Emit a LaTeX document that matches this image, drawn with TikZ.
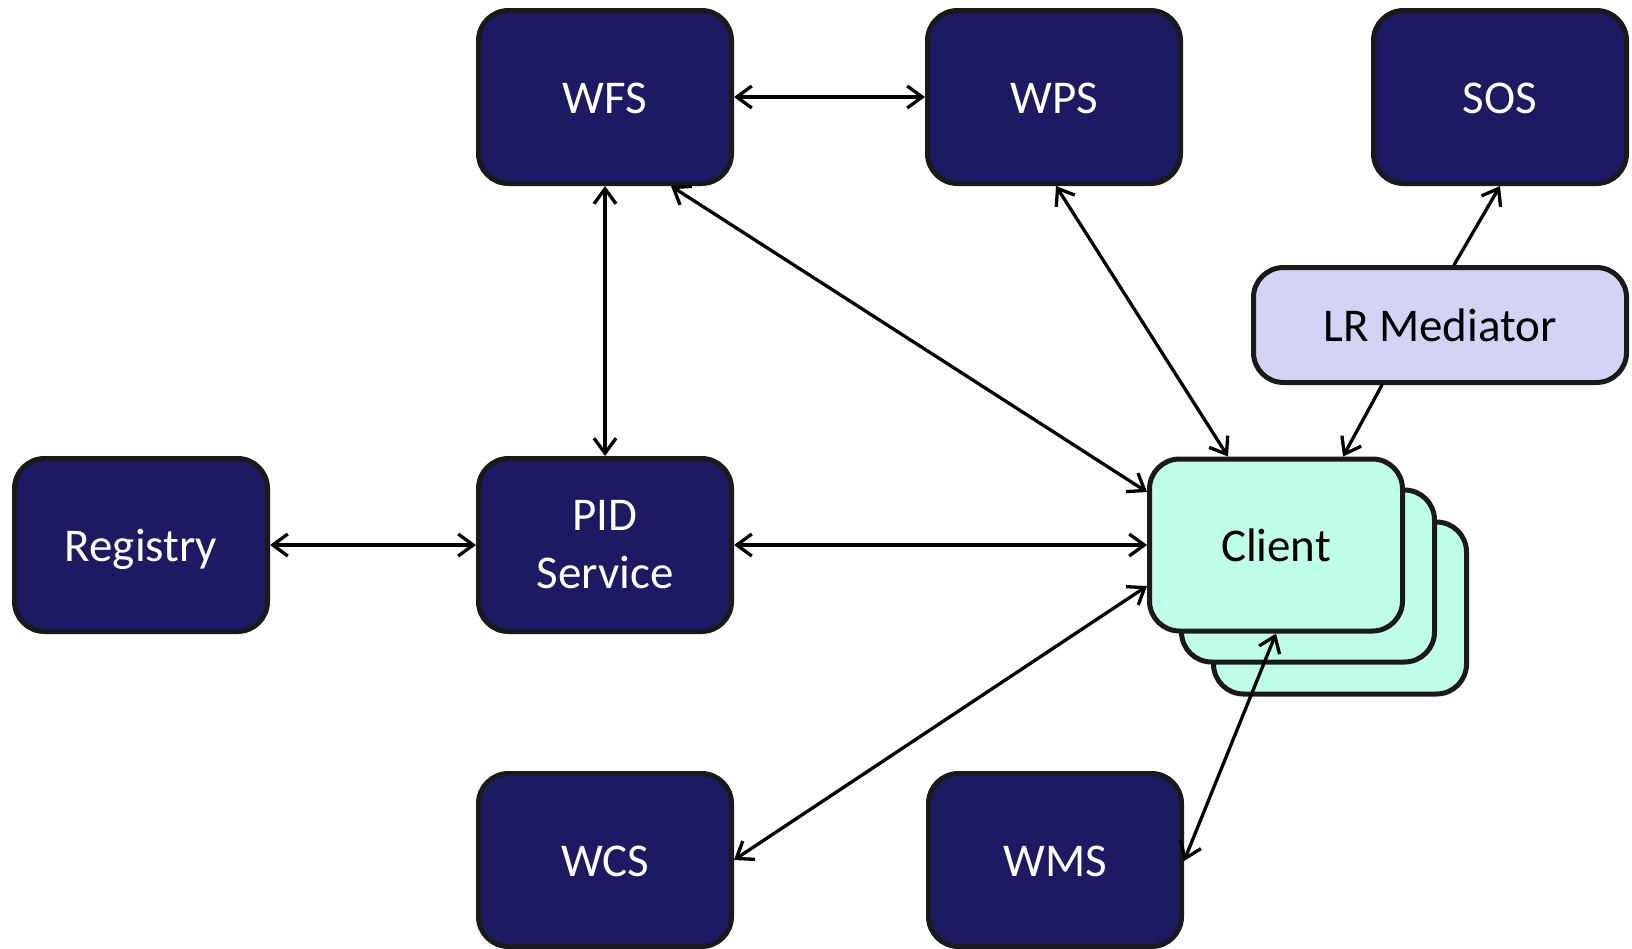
\documentclass[tikz,border=0pt]{standalone}
\usepackage{fontspec}
\setmainfont{Carlito}
\usetikzlibrary{arrows.meta}
\definecolor{navy}{RGB}{27,26,98}
\definecolor{bord}{RGB}{26,26,26}
\definecolor{mint}{RGB}{191,255,234}
\definecolor{lav}{RGB}{211,211,243}
\begin{document}
\begin{tikzpicture}[x=1pt,y=-1pt,
  box/.style={draw=bord, line width=5pt, rounded corners=30pt, minimum width=253pt, minimum height=173pt,
     inner sep=0pt, align=center, font=\fontsize{47}{58}\selectfont},
  one line/.style={text height=33pt, text depth=0pt},
  dark/.style={box, fill=navy, text=white},
  cli/.style={box, fill=mint, text=black},
  med/.style={box, fill=lav, text=black, minimum width=373pt, minimum height=115pt},
  conn/.style={line width=3.3pt, line cap=round, line join=round},
  tip/.tip={Straight Barb[length=15pt,width=22pt]},
  both/.style={conn, tip-tip},
  one/.style={conn, -tip}]
\useasboundingbox (0,0) rectangle (1632,948);
\node[dark, one line] (wfs) at (605,97) {WFS};
\node[dark, one line] (wps) at (1054,97) {WPS};
\node[dark, one line] (sos) at (1500,97) {SOS};
\node[dark, one line] (reg) at (141,545) {Registry};
\node[dark] (pid) at (605,545) {PID\\Service};
\node[dark, one line] (wcs) at (605,860) {WCS};
\node[dark, one line] (wms) at (1055,860) {WMS};
\node[med, one line] (lr) at (1440,325) {LR Mediator};
\node[cli, minimum height=172pt] (clientc) at (1340,608) {};
\node[cli, minimum height=172pt] (clientb) at (1308,576) {};
\node[cli, one line, minimum height=172pt] (client) at (1276,545) {Client};
\draw[both] (wfs.east) -- (wps.west);
\draw[both] (wfs.south) -- (pid.north);
\draw[both] ([xshift=-63pt]wfs.south east) -- ([yshift=53pt]client.west);
\draw[both] ([xshift=2pt]wps.south) -- ([xshift=-48pt]client.north);
\draw[one] ([xshift=14pt]lr.north) -- (sos.south);
\draw[one] ([xshift=-58pt]lr.south) -- ([xshift=67pt]client.north);
\draw[both] (reg.east) -- (pid.west);
\draw[both] (pid.east) -- (client.west);
\draw[both] (wcs.east) -- ([yshift=-41pt]client.west);
\draw[both] ([yshift=-1pt]wms.east) -- (client.south);
\end{tikzpicture}
\end{document}
